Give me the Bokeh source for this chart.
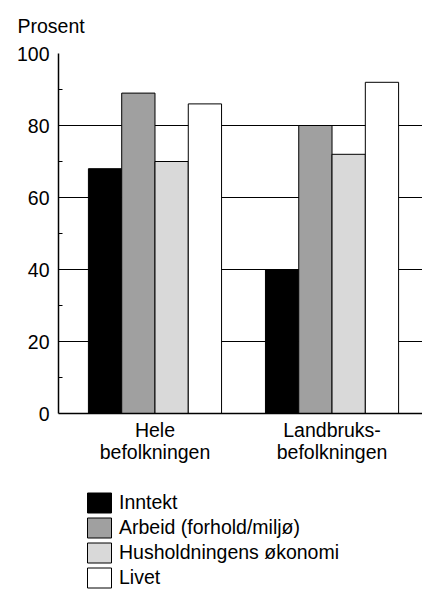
from bokeh.plotting import figure
from bokeh.models import Range1d, FixedTicker, Legend, LegendItem
from bokeh.layouts import column
from bokeh.embed import file_html
from bokeh.resources import INLINE

# ---- data ----
groups = ["Hele\nbefolkningen", "Landbruks-\nbefolkningen"]
series = ["Inntekt", "Arbeid (forhold/miljø)", "Husholdningens økonomi", "Livet"]
inntekt = [68, 40]
arbeid = [89, 80]
husholdning = [70, 72]
livet = [86, 92]
y_ticks = [0, 20, 40, 60, 80, 100]
y_minor = [10, 30, 50, 70, 90]

values = [inntekt, arbeid, husholdning, livet]
colors = ["#000000", "#a0a0a0", "#d9d9d9", "#ffffff"]

FONT = "Liberation Sans"
FS = "19.5px"

p = figure(width=422, height=480, output_backend="svg", toolbar_location=None,
           x_range=Range1d(-0.045, 2.011), y_range=Range1d(0, 100),
           min_border_left=58, min_border_right=0, min_border_top=52,
           min_border_bottom=67)
p.outline_line_color = None
p.background_fill_color = "white"
p.border_fill_color = "white"

w = 0.188
for k, (name, vals, col) in enumerate(zip(series, values, colors)):
    xs = [i + 0.5 + (k - 1.5) * w for i in range(len(groups))]
    p.vbar(x=xs, top=vals, width=w, bottom=0, fill_color=col,
           line_color="black", line_width=1)

# axes
p.xaxis.ticker = FixedTicker(ticks=[i + 0.5 for i in range(len(groups))])
p.xaxis.major_label_overrides = {i + 0.5: g for i, g in enumerate(groups)}
p.xaxis.major_tick_line_color = None
p.xaxis.minor_tick_line_color = None
p.xaxis.major_tick_out = 0
p.xaxis.major_tick_in = 0
p.xaxis.major_label_standoff = 5
p.xaxis.axis_line_color = "black"
p.xaxis.axis_line_width = 1.5

p.yaxis.ticker = FixedTicker(ticks=y_ticks, minor_ticks=y_minor)
p.yaxis.major_tick_line_color = None
p.yaxis.major_tick_out = 0
p.yaxis.major_tick_in = 0
p.yaxis.minor_tick_in = 4
p.yaxis.minor_tick_out = 0
p.yaxis.minor_tick_line_color = "black"
p.yaxis.major_label_standoff = 9
p.yaxis.axis_line_color = "black"
p.yaxis.axis_line_width = 1.5

for ax in (p.xaxis, p.yaxis):
    ax.major_label_text_font = FONT
    ax.major_label_text_font_size = FS
    ax.major_label_text_color = "black"
    ax.major_label_text_line_height = 1.0

p.xgrid.grid_line_color = None
p.ygrid.ticker = FixedTicker(ticks=y_ticks)
p.ygrid.grid_line_color = "black"
p.ygrid.grid_line_width = 1

p.title.text = "Prosent"
p.title.text_font = FONT
p.title.text_font_size = FS
p.title.text_font_style = "normal"
p.title.text_color = "black"
p.title.align = "left"
p.title.vertical_align = "top"
p.title.offset = -41
p.title.standoff = 29

# legend figure: same bars drawn outside its visible range, legend only
p2 = figure(width=422, height=120, output_backend="svg", toolbar_location=None,
            x_range=Range1d(0, 2), y_range=Range1d(1000, 1001),
            x_axis_type=None, y_axis_type=None,
            min_border_left=0, min_border_right=0, min_border_top=0,
            min_border_bottom=0)
p2.outline_line_color = None
p2.background_fill_color = "white"
p2.border_fill_color = "white"
items = []
for k, (name, vals, col) in enumerate(zip(series, values, colors)):
    xs = [i + 0.5 + (k - 1.5) * w for i in range(len(groups))]
    r = p2.vbar(x=xs, top=vals, width=w, bottom=0, fill_color=col,
                line_color="black", line_width=1)
    items.append(LegendItem(label=name, renderers=[r]))

legend = Legend(items=items, location=(26, 10), orientation="vertical",
                glyph_width=30, glyph_height=25, label_standoff=5, spacing=0,
                padding=0, margin=0, border_line_color=None,
                background_fill_alpha=0,
                label_text_font=FONT, label_text_font_size=FS,
                label_text_color="black")
p2.add_layout(legend, "center")

layout = column(p, p2, spacing=0)
open("out.html", "w").write(file_html(layout, INLINE))
